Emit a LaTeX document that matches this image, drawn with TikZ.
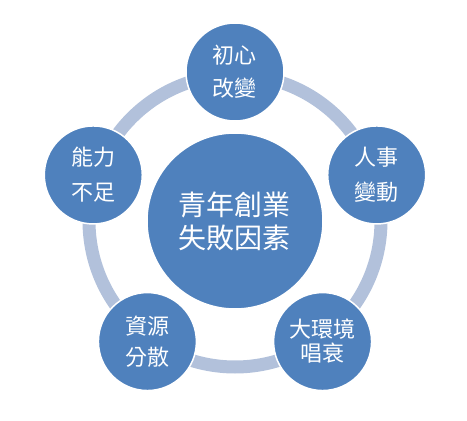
\documentclass[tikz,border=0pt]{standalone}
\usepackage{fontspec}
\newfontfamily\cjk{Noto Sans CJK TC}
\definecolor{nodeblue}{HTML}{4F81BD}
\definecolor{ringblue}{HTML}{B2C1DB}

\begin{document}
\begin{tikzpicture}[x=1pt,y=1pt,
	factor/.style={circle,fill=nodeblue,draw=white,line width=1.5pt,text=white,minimum size=98pt,inner sep=0pt,align=center},
	core/.style={factor,minimum size=176pt},
	ring/.style={draw=ringblue,line width=13pt}]
	\useasboundingbox (-235,-200) rectangle (232,221);
	\node[core,font=\cjk\fontsize{28}{33}\selectfont] (core) at (0,0) {青年創業\\失敗因素};
	\draw[ring] (core.center) circle (146);
	\foreach \a/\n/\t/\s in {90/heart/{初心\\改變}/33, 18/staff/{人事\\變動}/35, -54/market/{大環境\\唱衰}/24, 234/funds/{資源\\分散}/31, 162/skill/{能力\\不足}/35}{
		\node[factor,font=\cjk\fontsize{22}{\s}\selectfont] (\n) at (\a:149) {\t};
	}
\end{tikzpicture}
\end{document}
